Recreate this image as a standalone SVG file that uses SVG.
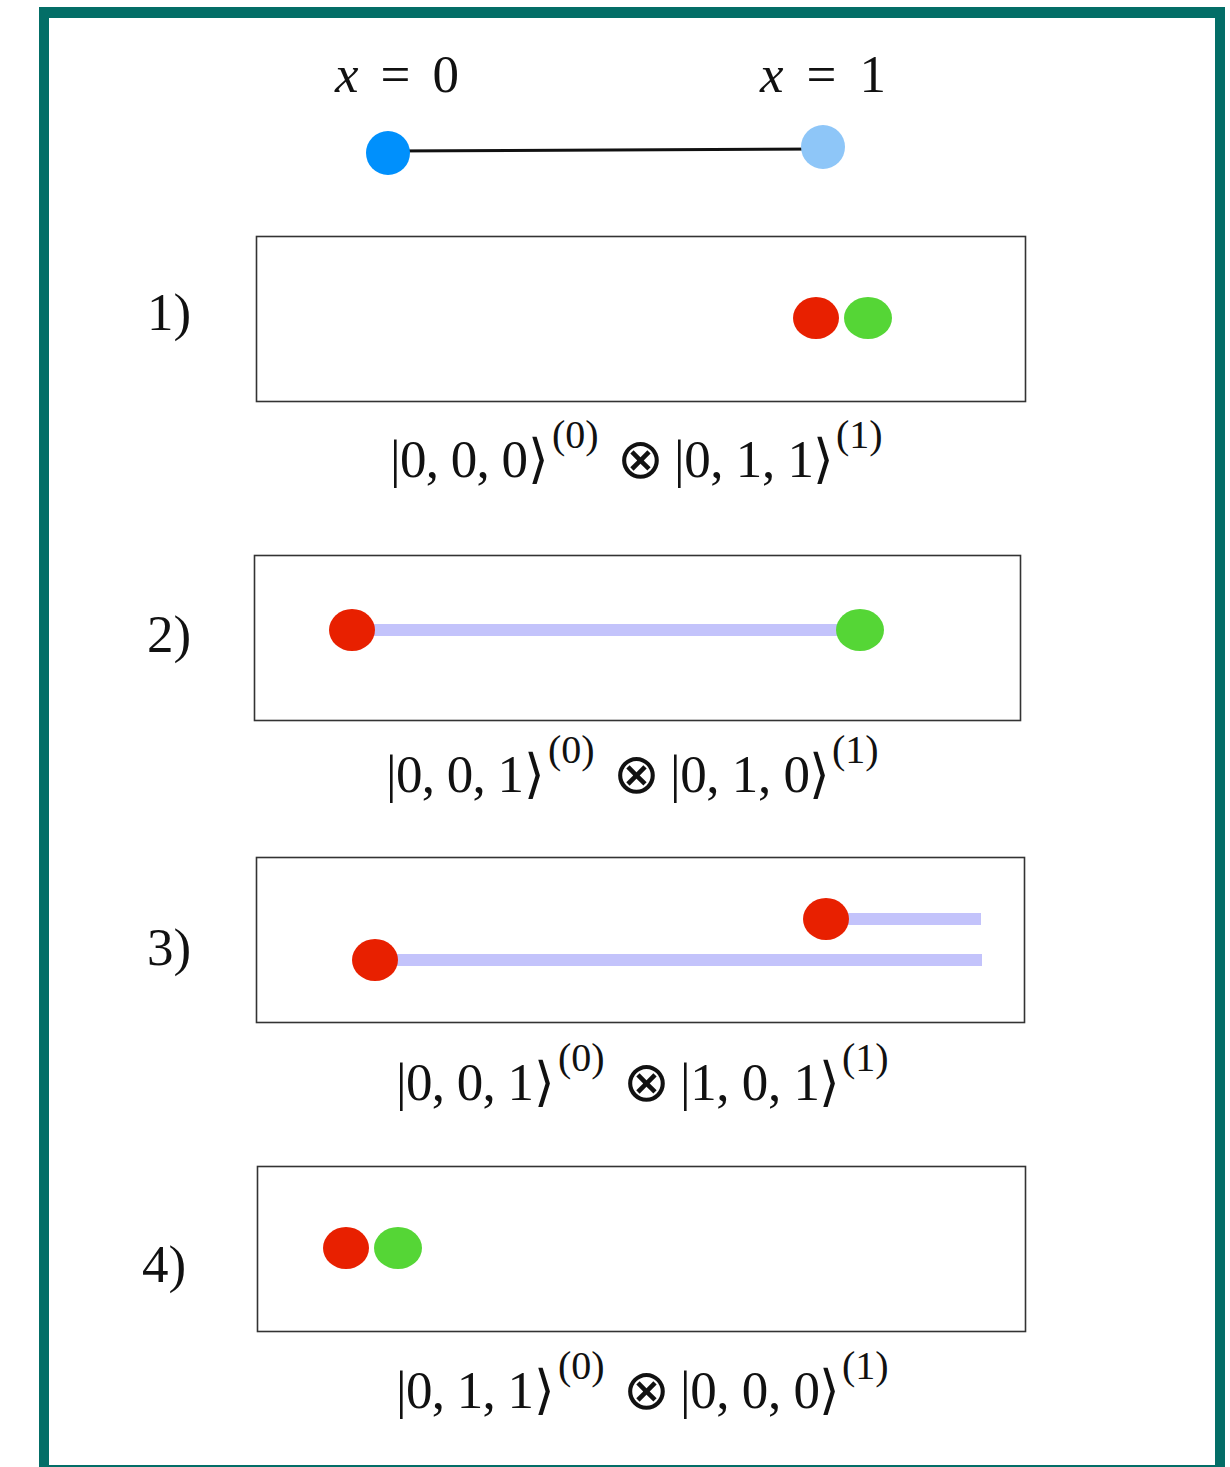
<svg xmlns="http://www.w3.org/2000/svg" width="1230" height="1467" viewBox="0 0 1230 1467">
  <style>
    .math { font-family: "Liberation Serif", "DejaVu Serif", serif; font-size: 53px; fill: #111; }
    .sup { font-family: "Liberation Serif", "DejaVu Serif", serif; font-size: 40px; fill: #111; }
    .op { font-family: "DejaVu Sans", "Liberation Serif", serif; font-size: 56px; fill: #111; font-weight: 200; }
    .it { font-style: italic; }
    .box { fill: none; stroke: #333; stroke-width: 1.6; }
    .track { stroke: #c3c3fb; stroke-width: 12; stroke-linecap: butt; }
    .red { fill: #e82000; }
    .green { fill: #55d636; }
  </style>

  <!-- page frame -->
  <rect x="0" y="0" width="1230" height="1467" fill="#ffffff"/>
  <rect x="39" y="7" width="1186" height="1470" fill="#036e67"/>
  <rect x="49" y="18" width="1166" height="1447" fill="#ffffff"/>

  <!-- top: the unit interval with its two end points -->
  <g id="interval">
    <text class="math" x="335" y="92" textLength="124" lengthAdjust="spacing"><tspan class="it">x</tspan> = 0</text>
    <text class="math" x="760" y="92" textLength="126" lengthAdjust="spacing"><tspan class="it">x</tspan> = 1</text>
  </g>
  <g id="connectors">
    <line x1="388" y1="151" x2="823" y2="149" stroke="#111" stroke-width="3"/>
    <line class="track" x1="352" y1="630" x2="860" y2="630"/>
    <line class="track" x1="826" y1="919" x2="981" y2="919"/>
    <line class="track" x1="375" y1="960" x2="982" y2="960"/>
  </g>
  <g id="point-x0"><ellipse cx="388" cy="153" rx="22" ry="22" fill="#0090fc"/></g>
  <g id="point-x1"><ellipse cx="823" cy="147" rx="22" ry="22" fill="#8ec6f8"/></g>

  <!-- state 1 -->
  <g id="state1">
    <text class="math" x="147" y="330">1)</text>
    <rect class="box" x="256.5" y="236.5" width="769" height="165"/>
    <ellipse class="red" cx="816" cy="318" rx="23" ry="21"/>
    <ellipse class="green" cx="868" cy="318" rx="24" ry="21"/>
    <text class="math" x="390" y="477" textLength="138" lengthAdjust="spacing">|0, 0, 0</text>
    <text class="math" x="528" y="477">⟩</text>
    <text class="sup" x="552" y="448">(0)</text>
    <text class="op" x="617" y="478">⊗</text>
    <text class="math" x="674" y="477" textLength="140" lengthAdjust="spacing">|0, 1, 1</text>
    <text class="math" x="813" y="477">⟩</text>
    <text class="sup" x="836" y="448">(1)</text>
  </g>

  <!-- state 2 -->
  <g id="state2">
    <text class="math" x="147" y="652">2)</text>
    <rect class="box" x="254.5" y="555.5" width="766" height="165"/>
    <ellipse class="red" cx="352" cy="630" rx="23" ry="21"/>
    <ellipse class="green" cx="860" cy="630" rx="24" ry="21"/>
    <text class="math" x="386" y="792" textLength="138" lengthAdjust="spacing">|0, 0, 1</text>
    <text class="math" x="524" y="792">⟩</text>
    <text class="sup" x="548" y="763">(0)</text>
    <text class="op" x="613" y="793">⊗</text>
    <text class="math" x="670" y="792" textLength="140" lengthAdjust="spacing">|0, 1, 0</text>
    <text class="math" x="809" y="792">⟩</text>
    <text class="sup" x="832" y="763">(1)</text>
  </g>

  <!-- state 3 -->
  <g id="state3">
    <text class="math" x="147" y="965">3)</text>
    <rect class="box" x="256.5" y="857.5" width="768" height="165"/>
    <ellipse class="red" cx="826" cy="919" rx="23" ry="21"/>
    <ellipse class="red" cx="375" cy="960" rx="23" ry="21"/>
    <text class="math" x="396" y="1100" textLength="138" lengthAdjust="spacing">|0, 0, 1</text>
    <text class="math" x="534" y="1100">⟩</text>
    <text class="sup" x="558" y="1071">(0)</text>
    <text class="op" x="623" y="1101">⊗</text>
    <text class="math" x="680" y="1100" textLength="140" lengthAdjust="spacing">|1, 0, 1</text>
    <text class="math" x="819" y="1100">⟩</text>
    <text class="sup" x="842" y="1071">(1)</text>
  </g>

  <!-- state 4 -->
  <g id="state4">
    <text class="math" x="142" y="1282">4)</text>
    <rect class="box" x="257.5" y="1166.5" width="768" height="165"/>
    <ellipse class="red" cx="346" cy="1248" rx="23" ry="21"/>
    <ellipse class="green" cx="398" cy="1248" rx="24" ry="21"/>
    <text class="math" x="396" y="1408" textLength="138" lengthAdjust="spacing">|0, 1, 1</text>
    <text class="math" x="534" y="1408">⟩</text>
    <text class="sup" x="558" y="1379">(0)</text>
    <text class="op" x="623" y="1409">⊗</text>
    <text class="math" x="680" y="1408" textLength="140" lengthAdjust="spacing">|0, 0, 0</text>
    <text class="math" x="819" y="1408">⟩</text>
    <text class="sup" x="842" y="1379">(1)</text>
  </g>
</svg>
